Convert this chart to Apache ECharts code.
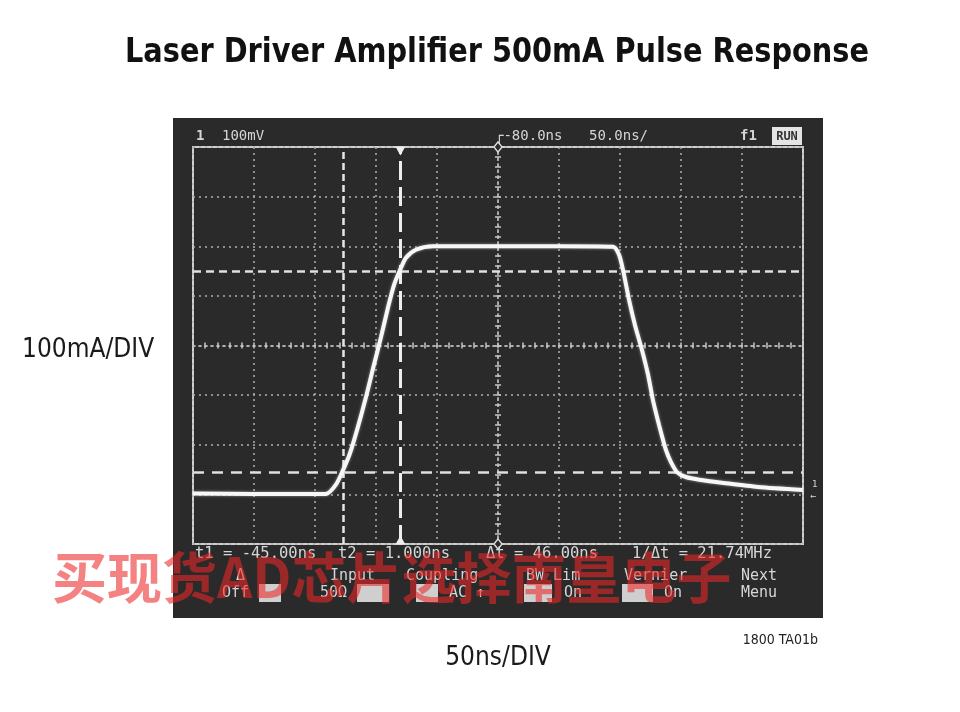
<!DOCTYPE html>
<html><head><meta charset="utf-8">
<script src="https://cdn.jsdelivr.net/npm/echarts@6/dist/echarts.min.js"></script>
<style>html,body{margin:0;padding:0;background:#fff}#c{width:960px;height:712px}</style>
</head><body><div id="c"></div>
<script>
// ---- data (x: ns, 0 = screen centre; y: mA) ----
const timeNs = [-250, -200, -160, -141, -133, -127, -121.3, -114.8, -108.2, -102.5, -95.9, -90.2, -85.2, -80.3, -75.4, -67.2, -53.3, 0, 50, 94.3, 99.2, 102.5, 107.4, 112.3, 118, 123, 127, 132, 137.7, 141.8, 146.7, 154, 166.4, 185, 213, 250];
const currentMa = [2, 1, 1, 1, 19, 49, 83, 136, 196, 253, 317, 376, 422, 452, 477, 493, 500, 500, 500, 499, 483, 452, 392, 341, 291, 241, 190, 140, 89, 65, 45, 35, 29, 23, 15, 9];
const cursorTimes = [-127, -80];      // t1, t2 vertical cursors
const cursorLevels = [450, 44];       // horizontal cursors
const xRange = [-250, 250];           // 10 div x 50 ns
const yRange = [-100, 700];           // 8 div x 100 mA

const titleText = 'Laser Driver Amplifier 500mA Pulse Response';
const yCaption = '100mA/DIV';
const xCaption = '50ns/DIV';
const figId = '1800 TA01b';
const topRow = ['1', '100mV', '┌-80.0ns', '50.0ns/', 'f1'];
const readouts = ['t1 = -45.00ns', 't2 = 1.000ns', 'Δt = 46.00ns', '1/Δt = 21.74MHz'];
const menuTop = ['Δ', 'Input', 'Coupling', 'BW Lim', 'Vernier', 'Next'];
const menuBottom = ['Off', '50Ω', 'AC ↑', 'On', 'On', 'Menu'];
const watermark = '买现货AD芯片选择南皇电子';

const G = {left: 193, top: 147, width: 610, height: 397};
const mono = '"DejaVu Sans Mono", "Liberation Mono", monospace';
const narrow = '"Liberation Sans Narrow", "DejaVu Sans Condensed", "Roboto Condensed", sans-serif';
const scr = '#d6d6d6';
const gridCol = '#b0b0b0';

const chart = echarts.init(document.getElementById('c'), null, {renderer: 'canvas'});

function txt(text, x, y, font, fill, align, z, sx) {
  return {type: 'text', z: z || 50, silent: true, x: x, y: y, scaleX: sx || 1,
    style: {text: text, x: 0, y: 0, font: font, fill: fill, align: align || 'left', verticalAlign: 'middle'}};
}
const topX = [196, 222, 495, 589, 740];
const readX = [195, 338, 486, 632];
const menuTopX = [236, 330, 406, 526, 624, 741];
const menuBotX = [222, 320, 449, 564, 664, 741];
const boxes = [[259, 22], [357, 32], [416, 22], [524, 28], [622, 31]];

const graphics = [
  {type: 'rect', z: -100, silent: true, shape: {x: 173, y: 118, width: 650, height: 500}, style: {fill: '#2a2a2a'}},
  txt(titleText, 497, 53, 'bold 33px ' + narrow, '#111', 'center', 50, 0.97),
  txt(yCaption, 22, 350, '26px ' + narrow, '#1a1a1a', 'left', 50, 1.0),
  txt(xCaption, 498, 658, '26px ' + narrow, '#1a1a1a', 'center', 50, 1.0),
  txt(figId, 818, 640, '14px ' + narrow, '#222', 'right'),
  {type: 'rect', z: 40, silent: true, shape: {x: 772, y: 127, width: 30, height: 18}, style: {fill: '#e4e4e4'}},
  txt('RUN', 787, 136.5, 'bold 12px ' + mono, '#333', 'center', 45)
];
topRow.forEach((t, i) => graphics.push(txt(t, topX[i], 136, (i === 0 || i === 4 ? 'bold ' : '') + '14px ' + mono, scr)));
readouts.forEach((t, i) => graphics.push(txt(t, readX[i], 554, '15.5px ' + mono, scr)));
menuTop.forEach((t, i) => graphics.push(txt(t, menuTopX[i], 576, '15px ' + mono, scr)));
menuBottom.forEach((t, i) => graphics.push(txt(t, menuBotX[i], 593, '15px ' + mono, scr)));
boxes.forEach(b => graphics.push({type: 'rect', z: 40, silent: true, shape: {x: b[0], y: 584, width: b[1], height: 18}, style: {fill: '#cfcfcf'}}));
graphics.push(txt('1', 812, 485, '9px ' + mono, scr));
graphics.push(txt('←', 810, 496, '10px ' + mono, scr));
graphics.push(txt(watermark, 52, 577, 'bold 55px "Noto Sans CJK SC", sans-serif', 'rgba(236,40,40,0.58)', 'left', 200, 1.0));

const tickAxisX = (pos) => ({
  type: 'value', gridIndex: 1, position: pos, min: xRange[0], max: xRange[1], interval: 50,
  axisLine: {show: true, onZero: true, lineStyle: {color: gridCol, width: 1.5, type: [2, 4]}},
  axisTick: {show: true, inside: true, length: 3, lineStyle: {color: '#c8c8c8', width: 1.5}},
  minorTick: {show: true, splitNumber: 5, length: 3, lineStyle: {color: '#c8c8c8', width: 1.5}},
  axisLabel: {show: false}, splitLine: {show: false}
});
const tickAxisY = (pos) => ({
  type: 'value', gridIndex: 1, position: pos, min: -400, max: 400, interval: 100,
  axisLine: {show: true, onZero: true, lineStyle: {color: gridCol, width: 1.5, type: [2, 4]}},
  axisTick: {show: true, inside: true, length: 3, lineStyle: {color: '#c8c8c8', width: 1.5}},
  minorTick: {show: true, splitNumber: 5, length: 3, lineStyle: {color: '#c8c8c8', width: 1.5}},
  axisLabel: {show: false}, splitLine: {show: false}
});

const lineData = timeNs.map((t, i) => [t, currentMa[i]]);
const cursorStyle = [
  {type: [7, 4], width: 2.5, color: '#e6e6e6'},
  {type: [19, 7], width: 3, color: '#ededed'}
];
const levelStyle = [
  {type: [8, 5], width: 2.5, color: '#e0e0e0'},
  {type: [11, 8], width: 2.5, color: '#e0e0e0'}
];

chart.setOption({
  animation: false,
  backgroundColor: '#ffffff',
  graphic: graphics,
  grid: [
    Object.assign({show: true, borderColor: '#cfcfcf', borderWidth: 2, backgroundColor: 'transparent'}, G),
    Object.assign({show: false}, G)
  ],
  xAxis: [
    {type: 'value', gridIndex: 0, min: xRange[0], max: xRange[1], interval: 50,
      axisLine: {show: false}, axisTick: {show: false}, axisLabel: {show: false},
      splitLine: {show: true, lineStyle: {color: gridCol, width: 1.5, type: [2, 4]}}},
    tickAxisX('bottom'), tickAxisX('top')
  ],
  yAxis: [
    {type: 'value', gridIndex: 0, min: yRange[0], max: yRange[1], interval: 100,
      axisLine: {show: false}, axisTick: {show: false}, axisLabel: {show: false},
      splitLine: {show: true, lineStyle: {color: gridCol, width: 1.5, type: [2, 4]}}},
    tickAxisY('left'), tickAxisY('right')
  ],
  series: [
    {
      type: 'line', xAxisIndex: 0, yAxisIndex: 0, data: lineData, smooth: 0.25,
      symbol: 'none', silent: true, z: 10,
      lineStyle: {color: '#f7f7f7', width: 4, shadowBlur: 3, shadowColor: 'rgba(255,255,255,0.5)'},
      markLine: {
        silent: true, symbol: 'none', label: {show: false}, z: 5,
        data: cursorTimes.map((t, i) => ({xAxis: t, lineStyle: cursorStyle[i]}))
          .concat(cursorLevels.map((v, i) => ({yAxis: v, lineStyle: levelStyle[i]})))
      },
      markPoint: {
        silent: true, label: {show: false},
        data: [
          {coord: [cursorTimes[1], yRange[1]], symbol: 'triangle', symbolSize: [10, 9], symbolRotate: 180, symbolOffset: [0, 4], itemStyle: {color: '#eee'}},
          {coord: [cursorTimes[1], yRange[0]], symbol: 'triangle', symbolSize: [10, 9], symbolOffset: [0, -4], itemStyle: {color: '#eee'}},
          {coord: [0, yRange[1]], symbol: 'diamond', symbolSize: [8, 10], itemStyle: {color: '#2a2a2a', borderColor: '#ddd', borderWidth: 1.5}},
          {coord: [0, yRange[0]], symbol: 'diamond', symbolSize: [8, 10], itemStyle: {color: '#2a2a2a', borderColor: '#ddd', borderWidth: 1.5}}
        ]
      }
    }
  ]
});
</script></body></html>
